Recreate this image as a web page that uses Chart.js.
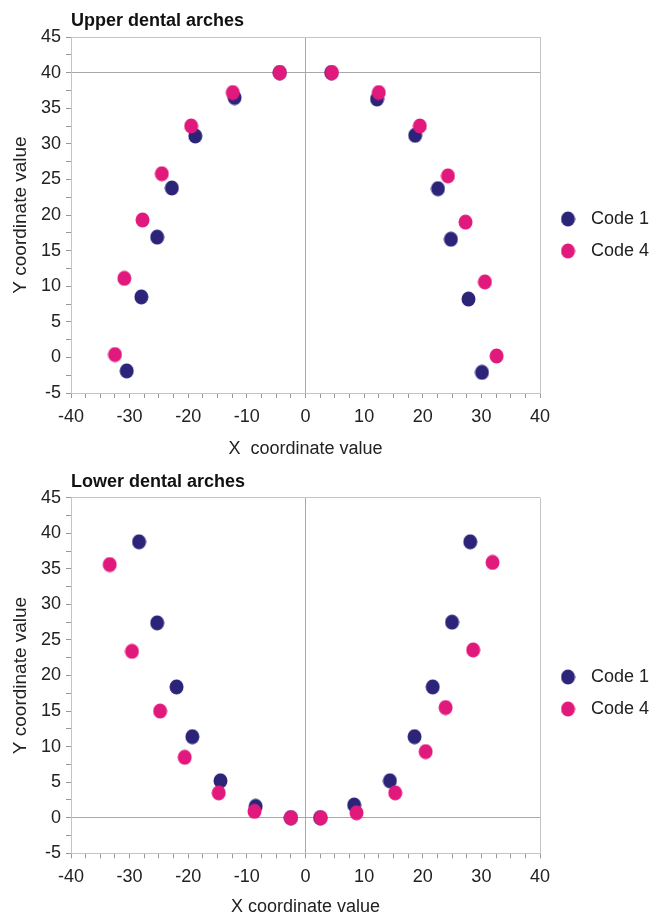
<!DOCTYPE html>
<html>
<head>
<meta charset="utf-8">
<title>Upper and lower dental arches</title>
<script src="https://cdn.jsdelivr.net/npm/chart.js@4.4.0/dist/chart.umd.min.js"></script>
<style>
  body { margin: 0; background: #fff; }
  canvas { display: block; }
</style>
</head>
<body>
<canvas id="upper" width="652" height="470"></canvas>
<canvas id="lower" width="652" height="446"></canvas>
<script>
// series names
const seriesNames = ['Code 1', 'Code 4'];

// upper arch
const upperCode1X = [-30.5, -28.0, -25.3, -22.8, -18.8, -12.1, -4.4, 4.4, 12.2, 18.7, 22.6, 24.8, 27.8, 30.1];
const upperCode1Y = [-1.9, 8.5, 16.9, 23.8, 31.1, 36.5, 40, 40, 36.3, 31.2, 23.7, 16.6, 8.2, -2.1];
const upperCode4X = [-32.5, -30.9, -27.8, -24.5, -19.5, -12.4, -4.4, 4.5, 12.5, 19.5, 24.3, 27.3, 30.6, 32.6];
const upperCode4Y = [0.4, 11.1, 19.3, 25.8, 32.5, 37.2, 40, 40, 37.2, 32.5, 25.5, 19.0, 10.6, 0.2];

// lower arch
const lowerCode1X = [-28.4, -25.3, -22.0, -19.3, -14.5, -8.5, -2.5, 2.5, 8.3, 14.4, 18.6, 21.7, 25.0, 28.1];
const lowerCode1Y = [38.8, 27.4, 18.4, 11.4, 5.2, 1.6, 0, 0, 1.8, 5.2, 11.4, 18.4, 27.5, 38.8];
const lowerCode4X = [-33.4, -29.6, -24.8, -20.6, -14.8, -8.7, -2.5, 2.6, 8.7, 15.3, 20.5, 23.9, 28.6, 31.9];
const lowerCode4Y = [35.6, 23.4, 15.0, 8.5, 3.5, 0.9, 0, 0, 0.7, 3.5, 9.3, 15.5, 23.6, 35.9];

// axis ranges / tick labels
const xMin = -40, xMax = 40, xStep = 2.5, xLabelEvery = 10;
const yMin = -5, yMax = 45, yStep = 2.5, yLabelEvery = 5;

Chart.defaults.font.family = '"Liberation Sans", Arial, sans-serif';
Chart.defaults.color = '#222';

const navy = '#2c2479';
const pink = '#e2197c';
const frameColor = '#c4c4c4';
const refColor = '#a8a8a8';

// little oval marker, used by the points and the legend
function dot(color) {
    const c = document.createElement('canvas');
    c.width = 15;
    c.height = 16;
    const g = c.getContext('2d');
    g.fillStyle = color;
    g.beginPath();
    g.ellipse(7.5, 8, 7, 7.5, 0, 0, Math.PI * 2);
    g.fill();
    return c;
}

function toPoints(xs, ys) {
    return xs.map((x, i) => ({ x: x, y: ys[i] }));
}

function makeChart(id, title, code1, code4, refY, xTitle, lay) {
    const ctx = document.getElementById(id).getContext('2d');
    return new Chart(ctx, {
        type: 'scatter',
        data: {
            datasets: [{
                label: seriesNames[0],
                data: code1,
                pointStyle: dot(navy),
                backgroundColor: navy,
                borderColor: navy,
                order: 2
            }, {
                label: seriesNames[1],
                data: code4,
                pointStyle: dot(pink),
                backgroundColor: pink,
                borderColor: pink,
                order: 1
            }]
        },
        options: {
            responsive: false,
            animation: false,
            events: [],
            layout: {
                padding: { left: 0, right: 0, top: 0, bottom: 0 }
            },
            plugins: {
                tooltip: { enabled: false },
                title: {
                    display: true,
                    text: title,
                    align: 'start',
                    fullSize: false,
                    color: '#111',
                    font: { size: 18, weight: 'bold' },
                    padding: { top: lay.titleTop, bottom: lay.titleBottom }
                },
                legend: {
                    position: 'right',
                    maxWidth: 112,
                    labels: {
                        usePointStyle: true,
                        pointStyleWidth: 28,
                        boxHeight: 16,
                        padding: 14,
                        color: '#222',
                        font: { size: 18 },
                        sort: (a, b) => a.datasetIndex - b.datasetIndex
                    }
                }
            },
            scales: {
                x: {
                    type: 'linear',
                    min: xMin,
                    max: xMax,
                    afterFit: (scale) => { scale.height = lay.xHeight; },
                    border: { color: frameColor, width: 1 },
                    grid: {
                        drawOnChartArea: true,
                        tickLength: 5,
                        tickColor: '#999',
                        color: (c) => c.tick && c.tick.value === 0 ? refColor
                            : (c.tick && c.tick.value === xMax ? frameColor : 'transparent')
                    },
                    ticks: {
                        stepSize: xStep,
                        autoSkip: false,
                        maxRotation: 0,
                        padding: 8,
                        font: { size: 18 },
                        callback: (v) => v % xLabelEvery === 0 ? v : ''
                    },
                    title: {
                        display: true,
                        text: xTitle,
                        font: { size: 18, lineHeight: 1 },
                        padding: { top: 0, bottom: lay.xTitleBottom }
                    }
                },
                y: {
                    type: 'linear',
                    min: yMin,
                    max: yMax,
                    afterFit: (scale) => { scale.width = 71; },
                    border: { color: frameColor, width: 1 },
                    grid: {
                        drawOnChartArea: true,
                        tickLength: 5,
                        tickColor: '#999',
                        color: (c) => c.tick && c.tick.value === refY ? refColor
                            : (c.tick && c.tick.value === yMax ? frameColor : 'transparent')
                    },
                    ticks: {
                        stepSize: yStep,
                        autoSkip: false,
                        padding: 5,
                        font: { size: 18 },
                        callback: (v) => v % yLabelEvery === 0 ? v : ''
                    },
                    title: {
                        display: true,
                        text: 'Y coordinate value',
                        font: { size: 19, lineHeight: 1.2 },
                        padding: { top: 9, bottom: 0 }
                    }
                }
            }
        }
    });
}

makeChart('upper', 'Upper dental arches',
    toPoints(upperCode1X, upperCode1Y), toPoints(upperCode4X, upperCode4Y),
    40, 'X  coordinate value',
    { titleTop: 10, titleBottom: 5.4, xHeight: 77, xTitleBottom: 12 });

makeChart('lower', 'Lower dental arches',
    toPoints(lowerCode1X, lowerCode1Y), toPoints(lowerCode4X, lowerCode4Y),
    0, 'X coordinate value',
    { titleTop: 1.2, titleBottom: 4.9, xHeight: 62.7, xTitleBottom: 0 });
</script>
</body>
</html>
